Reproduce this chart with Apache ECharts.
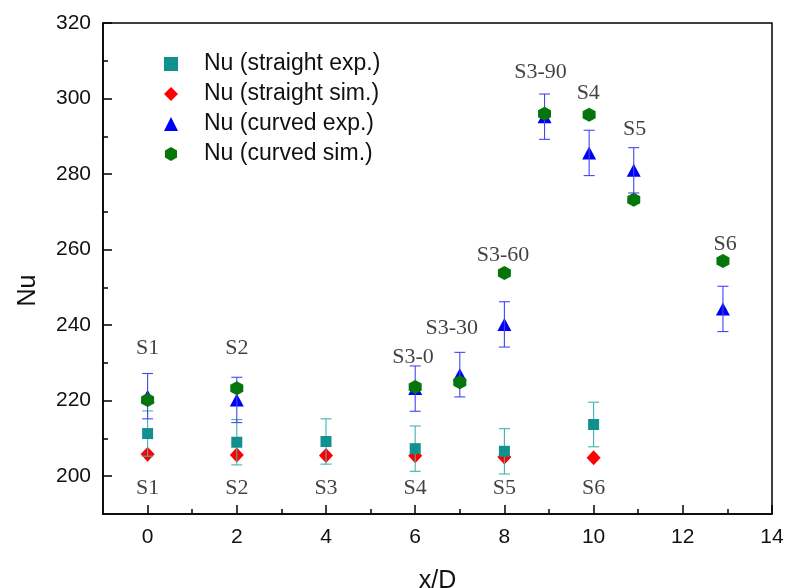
<!DOCTYPE html>
<html>
<head>
<meta charset="utf-8">
<script src="https://cdn.jsdelivr.net/npm/echarts@6/dist/echarts.min.js"></script>
<style>
  html, body { margin: 0; padding: 0; background: #fff; }
  #chart { width: 786px; height: 588px; }
</style>
</head>
<body>
<div id="chart"></div>
<script>
// Straight channel: positions S1..S6
const xStraight = [0, 2, 4, 6, 8, 10];
const nuStraightExp = [211.3, 209.0, 209.2, 207.3, 206.6, 213.7];
const errStraightExp = [6.0, 6.0, 6.0, 6.0, 6.0, 5.9];
const nuStraightSim = [205.8, 205.6, 205.5, 205.4, 205.1, 204.9];

// Curved channel: S1, S2, S3-0, S3-30, S3-60, S3-90, S4, S5, S6
const xCurved = [0, 2, 6, 7, 8, 8.9, 9.9, 10.9, 12.9];
const nuCurvedExp = [221.2, 220.2, 223.2, 226.9, 240.2, 295.2, 285.6, 281.0, 244.3];
const errCurvedExp = [6.0, 6.0, 6.0, 5.9, 6.0, 6.0, 6.0, 6.0, 6.0];
const nuCurvedSim = [220.2, 223.3, 223.6, 224.9, 253.8, 296.0, 295.7, 273.2, 257.0];

// Station names
const stationStraight = ['S1', 'S2', 'S3', 'S4', 'S5', 'S6'];
const stationCurved = ['S1', 'S2', 'S3-0', 'S3-30', 'S3-60', 'S3-90', 'S4', 'S5', 'S6'];
const stationCurvedX = [0, 2, 5.95, 6.82, 7.97, 8.81, 9.88, 10.92, 12.95];
const stationCurvedY = [233.8, 233.8, 231.6, 239.3, 258.6, 307.1, 301.5, 291.9, 261.3];
const stationStraightY = 196.8;

// Axis ticks
const xMajorTicks = [0, 2, 4, 6, 8, 10, 12, 14];
const xMinorTicks = [1, 3, 5, 7, 9, 11, 13];
const yMajorTicks = [200, 220, 240, 260, 280, 300, 320];
const yMinorTicks = [210, 230, 250, 270, 290, 310];

const seriesNames = ['Nu (straight exp.)', 'Nu (straight sim.)', 'Nu (curved exp.)', 'Nu (curved sim.)'];

const TEAL = '#119090';
const TEAL_ERR = '#3fb3b3';
const RED = '#ff0000';
const BLUE = '#0000f5';
const BLUE_ERR = '#4545f5';
const GREEN = '#06760c';
const HEX = 'path://M0,-10 L8.66,-5 L8.66,5 L0,10 L-8.66,5 L-8.66,-5 Z';

const sans = 'Liberation Sans';
const serif = 'Liberation Serif';

function zip(xs, ys, es) {
  return xs.map((x, i) => es ? [x, ys[i], es[i]] : [x, ys[i]]);
}

function errorBars(color) {
  return function (params, api) {
    const x = api.value(0), y = api.value(1), e = api.value(2);
    const top = api.coord([x, y + e]);
    const bot = api.coord([x, y - e]);
    const hw = 5.5;
    const style = { stroke: color, lineWidth: 1.1 };
    return {
      type: 'group',
      children: [
        { type: 'line', shape: { x1: top[0], y1: top[1], x2: bot[0], y2: bot[1] }, style: style },
        { type: 'line', shape: { x1: top[0] - hw, y1: top[1], x2: top[0] + hw, y2: top[1] }, style: style },
        { type: 'line', shape: { x1: bot[0] - hw, y1: bot[1], x2: bot[0] + hw, y2: bot[1] }, style: style }
      ]
    };
  };
}

function stationLabels(xs, ys, names) {
  return {
    type: 'scatter',
    silent: true,
    symbolSize: 1,
    itemStyle: { color: 'rgba(0,0,0,0)' },
    data: xs.map((x, i) => ({ value: [x, Array.isArray(ys) ? ys[i] : ys], name: names[i] })),
    label: {
      show: true,
      position: 'inside',
      formatter: p => p.name,
      fontFamily: serif,
      fontSize: 22,
      color: '#111'
    },
    z: 1
  };
}

function scatter(name, symbol, size, color, xs, ys, z) {
  return {
    name: name, type: 'scatter', symbol: symbol, symbolSize: size,
    itemStyle: { color: color, opacity: 1 },
    emphasis: { disabled: true },
    data: zip(xs, ys), z: z
  };
}

const chart = echarts.init(document.getElementById('chart'), null, { renderer: 'canvas' });

chart.setOption({
  backgroundColor: '#fff',
  animation: false,
  grid: {
    left: 103, top: 23, right: 14, bottom: 74,
    outerBoundsMode: 'none',
    containLabel: false,
    show: true, borderColor: '#000', borderWidth: 1.5, backgroundColor: 'transparent'
  },
  legend: {
    orient: 'vertical',
    left: 159,
    top: 47,
    itemWidth: 14,
    itemHeight: 14,
    itemGap: 6,
    selectedMode: false,
    textStyle: { fontFamily: sans, fontSize: 23, color: '#111', lineHeight: 24, padding: [0, 0, 0, 21] },
    data: [
      { name: seriesNames[0], icon: 'rect', itemStyle: { opacity: 1 } },
      { name: seriesNames[1], icon: 'diamond', itemStyle: { opacity: 1 } },
      { name: seriesNames[2], icon: 'triangle', itemStyle: { opacity: 1 } },
      { name: seriesNames[3], icon: HEX, itemStyle: { opacity: 1 } }
    ]
  },
  xAxis: [
    {
      type: 'value', min: -1, max: 14,
      name: 'x/D', nameLocation: 'middle', nameGap: 55,
      nameTextStyle: { fontFamily: sans, fontSize: 25, color: '#111' },
      axisLine: { show: true, onZero: false, lineStyle: { color: '#000', width: 1.5 } },
      axisTick: { show: true, inside: true, length: 9, customValues: xMajorTicks, lineStyle: { color: '#000', width: 1.5 } },
      axisLabel: { show: true, customValues: xMajorTicks, margin: 13, fontFamily: sans, fontSize: 21, color: '#111' },
      splitLine: { show: false }
    },
    {
      type: 'value', min: -1, max: 14, position: 'bottom',
      axisLine: { show: false, onZero: false },
      axisTick: { show: true, inside: true, length: 5, customValues: xMinorTicks, lineStyle: { color: '#000', width: 1.5 } },
      axisLabel: { show: false },
      splitLine: { show: false }
    }
  ],
  yAxis: [
    {
      type: 'value', min: 190, max: 320,
      name: 'Nu', nameLocation: 'middle', nameGap: 62,
      nameTextStyle: { fontFamily: sans, fontSize: 25, color: '#111', padding: [0, 44, 0, 0] },
      axisLine: { show: true, onZero: false, lineStyle: { color: '#000', width: 1.5 } },
      axisTick: { show: true, inside: true, length: 9, customValues: yMajorTicks, lineStyle: { color: '#000', width: 1.5 } },
      axisLabel: { show: true, customValues: yMajorTicks, margin: 12, fontFamily: sans, fontSize: 21, color: '#111' },
      splitLine: { show: false }
    },
    {
      type: 'value', min: 190, max: 320, position: 'left',
      axisLine: { show: false, onZero: false },
      axisTick: { show: true, inside: true, length: 5, customValues: yMinorTicks, lineStyle: { color: '#000', width: 1.5 } },
      axisLabel: { show: false },
      splitLine: { show: false }
    }
  ],
  series: [
    stationLabels(xStraight, stationStraightY, stationStraight),
    stationLabels(stationCurvedX, stationCurvedY, stationCurved),
    scatter(seriesNames[1], 'diamond', [14, 15], RED, xStraight, nuStraightSim, 2),
    {
      name: 'straight exp. error', type: 'custom', renderItem: errorBars(TEAL_ERR),
      encode: { x: 0, y: 1 }, data: zip(xStraight, nuStraightExp, errStraightExp), z: 3, silent: true
    },
    scatter(seriesNames[0], 'rect', 11, TEAL, xStraight, nuStraightExp, 4),
    scatter(seriesNames[2], 'triangle', [14, 13], BLUE, xCurved, nuCurvedExp, 5),
    {
      name: 'curved exp. error', type: 'custom', renderItem: errorBars(BLUE_ERR),
      encode: { x: 0, y: 1 }, data: zip(xCurved, nuCurvedExp, errCurvedExp), z: 6, silent: true
    },
    scatter(seriesNames[3], HEX, [13, 14], GREEN, xCurved, nuCurvedSim, 7)
  ]
});
</script>
</body>
</html>
